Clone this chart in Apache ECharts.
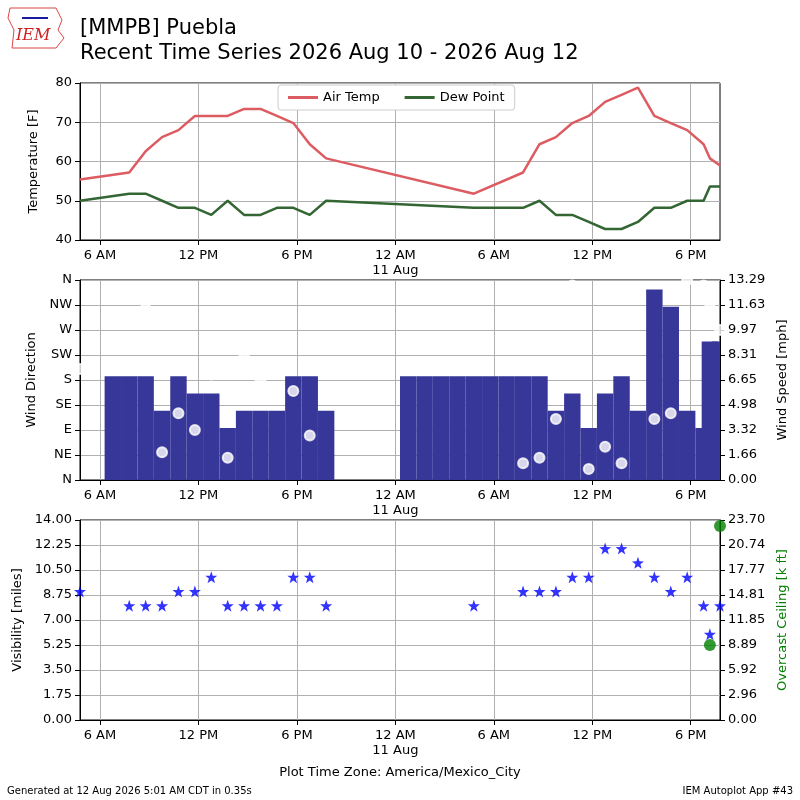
<!DOCTYPE html>
<html><head><meta charset="utf-8">
<script src="https://cdn.jsdelivr.net/npm/echarts@6/dist/echarts.min.js"></script>
<style>html,body{margin:0;padding:0;background:#fff}#c{width:800px;height:800px}</style>
</head><body><div id="c"></div>
<script>
// ---- data ----
const tempTimes = ["10 04:47","10 07:47","10 08:47","10 09:47","10 10:47","10 11:47","10 12:47","10 13:47","10 14:47","10 15:47","10 16:47","10 17:47","10 18:47","10 19:47",
  "11 04:47","11 07:47","11 08:47","11 09:47","11 10:47","11 11:47","11 12:47","11 13:47","11 14:47","11 15:47","11 16:47","11 17:47","11 18:47","11 19:10","11 19:47"];
const airTemp = [55.4,57.2,62.6,66.2,68,71.6,71.6,71.6,73.4,73.4,71.6,69.8,64.4,60.8,
  51.8,57.2,64.4,66.2,69.8,71.6,75.2,77,78.8,71.6,69.8,68,64.4,60.8,59];
const dewPoint = [50,51.8,51.8,50,48.2,48.2,46.4,50,46.4,46.4,48.2,48.2,46.4,50,
  48.2,48.2,50,46.4,46.4,44.6,42.8,42.8,44.6,48.2,48.2,50,50,53.6,53.6];
const visibility = [9,8,8,8,9,9,10,8,8,8,8,10,10,8,
  8,9,9,9,10,10,12,12,11,10,9,10,8,6,8];
const windTimes = ["10 04:47","10 06:47","10 07:47","10 08:47","10 09:47","10 10:47","10 11:47","10 12:47","10 13:47","10 14:47","10 15:47","10 16:47","10 17:47","10 18:47","10 19:47",
  "11 00:47","11 01:47","11 02:47","11 03:47","11 04:47","11 05:47","11 06:47","11 07:47","11 08:47","11 09:47","11 10:47","11 11:47","11 12:47","11 13:47","11 14:47","11 15:47","11 16:47","11 17:47","11 18:47","11 19:10","11 19:47"];
const windDir = [200,null,330,320,50,120,90,190,40,220,180,160,160,80,200,
  null,null,null,null,340,null,null,30,40,110,350,20,60,30,160,110,120,360,350,310,270];
const windSpeed = [0,6.9,6.9,6.9,4.6,6.9,5.75,5.75,3.45,4.6,4.6,4.6,6.9,6.9,4.6,
  6.9,6.9,6.9,6.9,6.9,6.9,6.9,6.9,6.9,4.6,5.75,3.45,5.75,6.9,4.6,12.66,11.51,4.6,3.45,9.21,9.21];
const ceilTimes = ["11 19:10","11 19:47"];
const ceiling = [8.9,23.0];
const dirLabels = ["N","NE","E","SE","S","SW","W","NW","N"];
const speedLabels = ["0.00","1.66","3.32","4.98","6.65","8.31","9.97","11.63","13.29"];
const visLabels = ["0.00","1.75","3.50","5.25","7.00","8.75","10.50","12.25","14.00"];
const ceilLabels = ["0.00","2.96","5.92","8.89","11.85","14.81","17.77","20.74","23.70"];
const xTicks = [6,12,18,24,30,36,42];

// ---- helpers ----
function toH(s){const [d,hm]=s.split(" ");const [h,m]=hm.split(":").map(Number);return (Number(d)-10)*24+h+m/60;}
function zip(ts,vs){return ts.map((t,i)=>[toH(t),vs[i]]).filter(p=>p[1]!==null);}
const XMIN=toH("10 04:47"), XMAX=toH("11 19:47");
function xl(v){const h=Math.round(v)%24;let s=h===0?"12 AM":h===12?"12 PM":(h<12?h+" AM":(h-12)+" PM");if(Math.round(v)===24)s+="\n11 Aug";return s;}
const F="DejaVu Sans";
const grids=[{left:80,right:80,top:83,height:157},{left:80,right:80,top:280,height:200},{left:80,right:80,top:520,height:200}];
function xAxis(i){return {type:'value',gridIndex:i,min:XMIN,max:XMAX,
  axisLine:{lineStyle:{color:'#000'}},axisTick:{customValues:xTicks,length:5,lineStyle:{color:'#000'}},
  axisLabel:{customValues:xTicks,formatter:xl,color:'#000',fontFamily:F,fontSize:13,lineHeight:15},
  splitLine:{show:true,lineStyle:{color:'#b0b0b0'}}};}
const yBase={axisLine:{show:true,lineStyle:{color:'#000'}},axisTick:{show:true,length:5,lineStyle:{color:'#000'}},
  axisLabel:{color:'#000',fontFamily:F,fontSize:13},nameLocation:'middle',nameTextStyle:{color:'#000',fontFamily:F,fontSize:13}};
const star='path://M0,-10L2.35,-3.24L9.51,-3.09L3.8,1.24L5.88,8.09L0,4L-5.88,8.09L-3.8,1.24L-9.51,-3.09L-2.35,-3.24Z';

const chart=echarts.init(document.getElementById('c'),null,{renderer:'canvas'});
chart.setOption({
  animation:false,
  textStyle:{fontFamily:F},
  grid:grids.map(g=>Object.assign({show:true,borderColor:'#000',borderWidth:1},g)),
  legend:{data:['Air Temp','Dew Point'],top:85,left:278,padding:[6,10],itemGap:25,itemWidth:30,itemHeight:3,
    borderColor:'#ccc',borderWidth:1,borderRadius:3,backgroundColor:'#fff',
    textStyle:{fontSize:13,color:'#000',fontFamily:F},icon:'rect'},
  xAxis:[xAxis(0),xAxis(1),xAxis(2)],
  yAxis:[
    Object.assign({},yBase,{type:'value',gridIndex:0,min:40,max:80,interval:10,name:'Temperature [F]',nameGap:40,splitLine:{lineStyle:{color:'#b0b0b0'}}}),
    Object.assign({},yBase,{type:'value',gridIndex:1,min:0,max:360,interval:45,name:'Wind Direction',nameGap:40,
      axisLabel:Object.assign({},yBase.axisLabel,{formatter:v=>dirLabels[Math.round(v/45)]}),splitLine:{lineStyle:{color:'#b0b0b0'}}}),
    Object.assign({},yBase,{type:'value',gridIndex:1,position:'right',min:0,max:13.29,interval:13.29/8,name:'Wind Speed [mph]',nameGap:52,
      axisLabel:Object.assign({},yBase.axisLabel,{formatter:v=>speedLabels[Math.round(v/(13.29/8))]}),splitLine:{show:false}}),
    Object.assign({},yBase,{type:'value',gridIndex:2,min:0,max:14,interval:1.75,name:'Visibility [miles]',nameGap:50,
      axisLabel:Object.assign({},yBase.axisLabel,{formatter:v=>visLabels[Math.round(v/1.75)]}),splitLine:{lineStyle:{color:'#b0b0b0'}}}),
    Object.assign({},yBase,{type:'value',gridIndex:2,position:'right',min:0,max:23.7,interval:23.7/8,name:'Overcast Ceiling [k ft]',nameGap:52,
      nameTextStyle:{color:'green',fontFamily:F,fontSize:13},
      axisLabel:Object.assign({},yBase.axisLabel,{formatter:v=>ceilLabels[Math.round(v/(23.7/8))]}),splitLine:{show:false}})
  ],
  series:[
    {name:'Air Temp',type:'line',xAxisIndex:0,yAxisIndex:0,data:zip(tempTimes,airTemp),showSymbol:false,color:'#dd5c62',lineStyle:{width:2.5}},
    {name:'Dew Point',type:'line',xAxisIndex:0,yAxisIndex:0,data:zip(tempTimes,dewPoint),showSymbol:false,color:'#336633',lineStyle:{width:2.5}},
    {type:'custom',xAxisIndex:1,yAxisIndex:2,data:zip(windTimes,windSpeed),z:2,
      renderItem:function(params,api){
        const t=api.value(0),v=api.value(1);
        const a=api.coord([t-0.5,v]),b=api.coord([t+0.5,0]);
        const r=echarts.graphic.clipRectByRect({x:a[0],y:a[1],width:b[0]-a[0],height:b[1]-a[1]},
          {x:params.coordSys.x,y:params.coordSys.y,width:params.coordSys.width,height:params.coordSys.height});
        return r?{type:'rect',shape:r,style:{fill:'#373699'}}:null;
      }},
    {type:'scatter',xAxisIndex:1,yAxisIndex:1,data:zip(windTimes,windDir),symbol:'emptyCircle',symbolSize:10,z:5,
      itemStyle:{color:'#fff',borderColor:'#bdbd7a',borderWidth:1.5}},
    {type:'scatter',xAxisIndex:2,yAxisIndex:3,data:zip(tempTimes,visibility),symbol:star,symbolSize:12,itemStyle:{color:'#0000ff'}},
    {type:'scatter',xAxisIndex:2,yAxisIndex:4,data:zip(ceilTimes,ceiling),symbol:'circle',symbolSize:12,itemStyle:{color:'green'},clip:false}
  ],
  graphic:[
    {type:'text',left:80,top:18,style:{text:'[MMPB] Puebla',font:'21px "DejaVu Sans"',fill:'#000'}},
    {type:'text',left:80,top:43,style:{text:'Recent Time Series 2026 Aug 10 - 2026 Aug 12',font:'21px "DejaVu Sans"',fill:'#000'}},
    {type:'text',left:16,top:28,style:{text:'IEM',font:'italic 16px "DejaVu Serif"',fill:'#cc2222'}},
    {type:'polyline',shape:{points:[[10,8],[56,8],[62,20],[58,30],[64,38],[56,48],[12,48],[14,30],[8,18],[10,8]]},style:{stroke:'#dd4444',fill:null,lineWidth:1}},
    {type:'line',shape:{x1:22,y1:18,x2:48,y2:18},style:{stroke:'#1a1aa0',lineWidth:2}},
    {type:'text',left:'center',top:766,style:{text:'Plot Time Zone: America/Mexico_City',font:'13px "DejaVu Sans"',fill:'#000'}},
    {type:'text',left:7,top:786,style:{text:'Generated at 12 Aug 2026 5:01 AM CDT in 0.35s',font:'10px "DejaVu Sans"',fill:'#000'}},
    {type:'text',right:7,top:786,style:{text:'IEM Autoplot App #43',font:'10px "DejaVu Sans"',fill:'#000'}}
  ]
});
</script></body></html>
